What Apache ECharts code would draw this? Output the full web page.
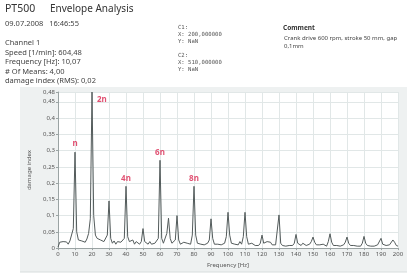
<!DOCTYPE html>
<html><head><meta charset="utf-8">
<script src="https://cdn.jsdelivr.net/npm/echarts@6/dist/echarts.min.js"></script>
<style>html,body{margin:0;padding:0;background:#fff}#c{width:407px;height:273px}</style>
</head><body><div id="c"></div>
<script>
// amplitude (damage index) per 1 Hz bin, index = frequency in Hz (0..200)
const amplitude = [
0.003,0.018,0.012,0.02,0.014,0.019,0.012,0.022,0.02,0.06,
0.295,0.05,0.025,0.03,0.022,0.02,0.018,0.028,0.045,0.09,
0.48,0.1,0.04,0.03,0.035,0.025,0.03,0.02,0.02,0.04,
0.145,0.03,0.015,0.022,0.012,0.02,0.015,0.018,0.014,0.03,
0.19,0.035,0.02,0.015,0.025,0.012,0.02,0.015,0.012,0.02,
0.06,0.02,0.015,0.012,0.02,0.012,0.01,0.015,0.012,0.03,
0.27,0.03,0.015,0.02,0.045,0.092,0.03,0.015,0.012,0.025,
0.1,0.025,0.012,0.01,0.018,0.012,0.015,0.02,0.012,0.04,
0.19,0.04,0.015,0.02,0.012,0.018,0.01,0.012,0.015,0.025,
0.09,0.03,0.012,0.01,0.012,0.015,0.01,0.012,0.015,0.035,
0.11,0.04,0.015,0.01,0.012,0.015,0.01,0.02,0.012,0.035,
0.11,0.035,0.012,0.01,0.015,0.01,0.008,0.01,0.008,0.015,
0.04,0.015,0.01,0.02,0.015,0.018,0.01,0.008,0.01,0.012,
0.102,0.015,0.008,0.01,0.006,0.012,0.008,0.01,0.008,0.015,
0.042,0.015,0.01,0.008,0.015,0.01,0.008,0.01,0.012,0.02,
0.034,0.018,0.01,0.008,0.01,0.008,0.012,0.008,0.006,0.02,
0.044,0.018,0.008,0.01,0.008,0.01,0.006,0.008,0.01,0.018,
0.034,0.015,0.008,0.006,0.008,0.01,0.006,0.008,0.006,0.015,
0.036,0.015,0.008,0.01,0.006,0.008,0.006,0.008,0.01,0.015,
0.03,0.012,0.006,0.008,0.006,0.01,0.015,0.025,0.018,0.008,
0.006
];
const harmonicNames = ['n','2n','4n','6n','8n'];
const harmonicFreqs = [10,20,40,60,80];
const yTicks = {min:0, max:0.48, interval:0.05};
const xTicks = {min:0, max:200, interval:10};

const infoLeft = ['Channel 1','Speed [1/min]: 604,48','Frequency [Hz]: 10,07','# Of Means: 4,00','damage index (RMS): 0,02'];
const cursorLines = ['C1:','X: 200,000000','Y: NaN','','C2:','X: 510,000000','Y: NaN'];
const commentLines = ['Crank drive 600 rpm, stroke 50 mm, gap','0,1mm'];

const lineData = amplitude.map((v,i)=>[i,v]);
const labelData = harmonicNames.map((n,k)=>{
  const f = harmonicFreqs[k];
  const d = {value:[f, amplitude[f]], name:n};
  if (n==='2n') d.label = {position:'right', offset:[1,8]};
  return d;
});

const F = 'Noto Sans, sans-serif';
const graphics = [
  {type:'rect', shape:{x:20,y:87,width:387,height:185}, style:{fill:'#eef1f1'}, z:-10},
  {type:'line', shape:{x1:20,y1:272,x2:407,y2:272}, style:{stroke:'#d8dddd',lineWidth:1}, z:-9},
  {type:'text', left:5, top:4, style:{text:'PT500', fontFamily:F, fontSize:10.5, fill:'#333'}},
  {type:'text', left:50, top:4, style:{text:'Envelope Analysis', fontFamily:F, fontSize:10, fill:'#333'}},
  {type:'text', left:5, top:20, style:{text:'09.07.2008   16:46:55', fontFamily:F, fontSize:7.5, fill:'#444'}},
  {type:'text', left:5, top:38, style:{text:infoLeft.join('\n'), fontFamily:F, fontSize:7.5, lineHeight:9.6, fill:'#444'}},
  {type:'text', left:178, top:24, style:{text:cursorLines.join('\n'), fontFamily:'DejaVu Sans Mono, monospace', fontSize:5.6, lineHeight:7, fill:'#555'}},
  {type:'text', left:283, top:25, style:{text:'Comment', fontFamily:F, fontSize:6.5, fontWeight:'bold', fill:'#333'}},
  {type:'text', left:284, top:34, style:{text:commentLines.join('\n'), fontFamily:F, fontSize:6, lineHeight:8, fill:'#444'}}
];

const chart = echarts.init(document.getElementById('c'), null, {renderer:'canvas'});
chart.setOption({
  animation:false,
  graphic: graphics,
  grid:{left:58, right:9, top:92, bottom:21, show:true, backgroundColor:'#ffffff', borderWidth:0},
  xAxis:{type:'value', min:xTicks.min, max:xTicks.max, interval:xTicks.interval,
    name:'Frequency [Hz]', nameLocation:'middle', nameGap:11,
    nameTextStyle:{fontFamily:F, fontSize:6, color:'#555'},
    axisLine:{show:true, lineStyle:{color:'#9aa3a3', width:1}},
    axisTick:{show:true, length:2, lineStyle:{color:'#9aa3a3'}},
    axisLabel:{fontFamily:F, fontSize:6, color:'#555', margin:3},
    splitLine:{show:true, lineStyle:{color:'#e1e7e7', width:1}}},
  yAxis:{type:'value', min:yTicks.min, max:yTicks.max, interval:yTicks.interval,
    name:'damage index', nameLocation:'middle', nameGap:21, nameRotate:90,
    nameTextStyle:{fontFamily:F, fontSize:6, color:'#555'},
    axisLine:{show:true, lineStyle:{color:'#9aa3a3', width:1}},
    axisTick:{show:true, length:2, lineStyle:{color:'#9aa3a3'}},
    axisLabel:{fontFamily:F, fontSize:6, color:'#555', margin:3,
      formatter:v=>String(+v.toFixed(3)).replace('.',',')},
    splitLine:{show:true, lineStyle:{color:'#e1e7e7', width:1}}},
  series:[
    {type:'line', data:lineData, showSymbol:false, symbol:'none',
     lineStyle:{color:'#535b5b', width:1}, z:3},
    {type:'scatter', data:labelData, symbolSize:0, z:5,
     label:{show:true, position:'top', distance:4, formatter:p=>p.name,
       fontFamily:F, fontSize:8, fontWeight:'bold', color:'#d9254f'}}
  ]
});
</script></body></html>
